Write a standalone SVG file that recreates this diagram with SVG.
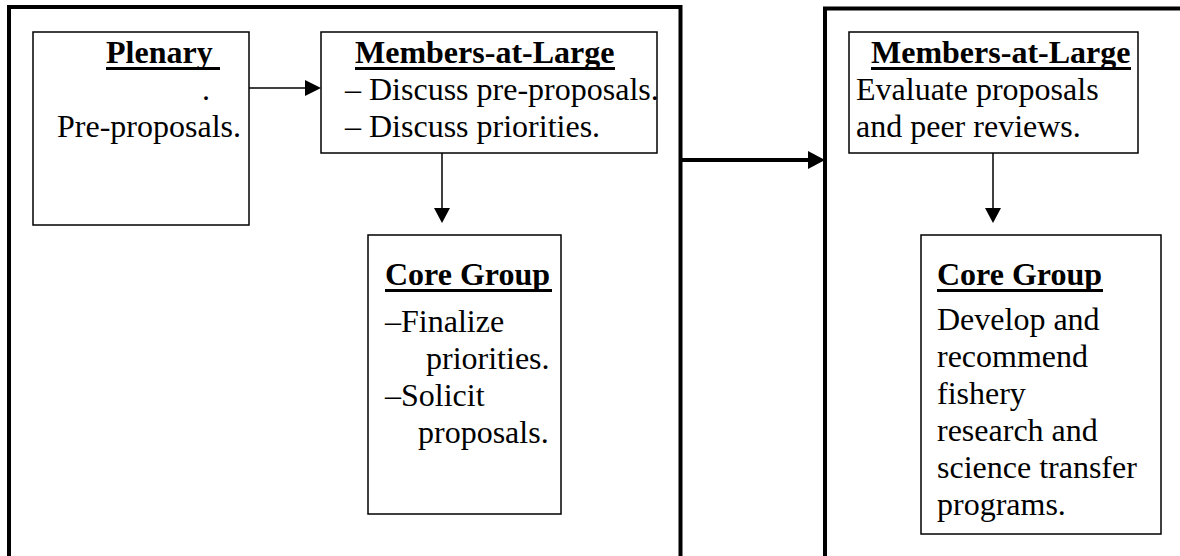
<svg xmlns="http://www.w3.org/2000/svg" width="1180" height="556" viewBox="0 0 1180 556">
<defs>
<style>
.t{font-family:"Liberation Serif","Times New Roman",serif;font-size:32px;fill:#000}
.b{font-weight:bold}
.box{fill:#fff;stroke:#000;stroke-width:1.5}
.ul{stroke:#000;stroke-width:3}
.thin{stroke:#000;stroke-width:1.5;fill:none}
.thick{stroke:#000;stroke-width:4;fill:none}
</style>
</defs>
<rect width="1180" height="556" fill="#fff"/>
<g id="phase1">
<path class="thick" d="M9,560 V7 H680.5 V560"/>
</g>
<g id="phase2">
<path class="thick" d="M825,560 V8.5 H1190" stroke-width="3.5"/>
</g>
<g id="plenary">
<rect class="box" x="33" y="32" width="216" height="193"/>
<text class="t b" x="106" y="63">Plenary</text>
<line class="ul" x1="106" y1="68.5" x2="220" y2="68.5"/>
<text class="t" x="202" y="100">.</text>
<text class="t" x="57" y="137">Pre-proposals.</text>
</g>
<g id="members1">
<rect class="box" x="321" y="32" width="336" height="121"/>
<text class="t b" x="355" y="63">Members-at-Large</text>
<line class="ul" x1="355" y1="68.5" x2="615" y2="68.5"/>
<text class="t" x="345" y="100">– Discuss pre-proposals.</text>
<text class="t" x="345" y="137">– Discuss priorities.</text>
</g>
<g id="core1">
<rect class="box" x="368" y="235" width="193" height="279"/>
<text class="t b" x="385" y="285">Core Group</text>
<line class="ul" x1="385" y1="290.5" x2="552" y2="290.5"/>
<text class="t" x="385" y="332">–Finalize</text>
<text class="t" x="426" y="369">priorities.</text>
<text class="t" x="385" y="406">–Solicit</text>
<text class="t" x="418" y="443">proposals.</text>
</g>
<g id="members2">
<rect class="box" x="849" y="32" width="289" height="121"/>
<text class="t b" x="871" y="63">Members-at-Large</text>
<line class="ul" x1="871" y1="68.5" x2="1131" y2="68.5"/>
<text class="t" x="856" y="100">Evaluate proposals</text>
<text class="t" x="856" y="137">and peer reviews.</text>
</g>
<g id="core2">
<rect class="box" x="921" y="235" width="240" height="299"/>
<text class="t b" x="937" y="285">Core Group</text>
<line class="ul" x1="937" y1="290.5" x2="1103" y2="290.5"/>
<text class="t" x="937" y="330">Develop and</text>
<text class="t" x="937" y="367">recommend</text>
<text class="t" x="937" y="404">fishery</text>
<text class="t" x="937" y="441">research and</text>
<text class="t" x="937" y="478">science transfer</text>
<text class="t" x="937" y="515">programs.</text>
</g>
<g id="connectors">
<line class="thin" x1="249" y1="88" x2="306" y2="88"/>
<polygon points="305,80 321,88 305,96" fill="#000"/>
<line class="thin" x1="442" y1="153" x2="442" y2="209"/>
<polygon points="434,208 442,223 450,208" fill="#000"/>
<line class="thin" x1="993" y1="153" x2="993" y2="209"/>
<polygon points="985,208 993,223 1001,208" fill="#000"/>
<line class="thick" x1="680" y1="160" x2="810" y2="160"/>
<polygon points="808,151 825,160 808,169" fill="#000"/>
</g>
</svg>
